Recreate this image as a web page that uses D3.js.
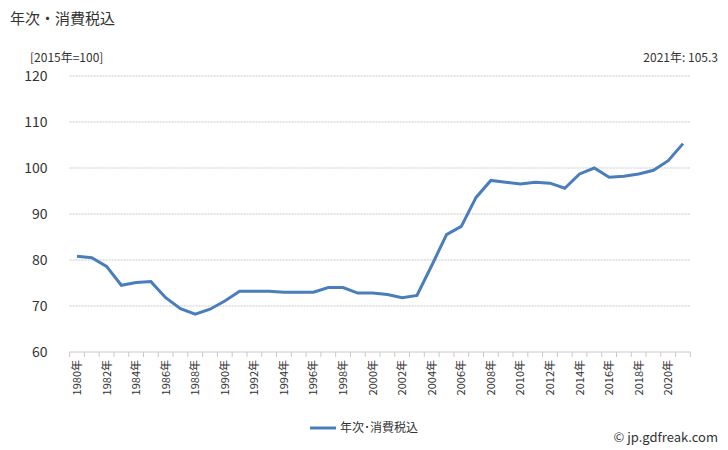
<!DOCTYPE html><html><head><meta charset="utf-8"><script src="https://cdn.jsdelivr.net/npm/d3@7"></script>
<style>body{margin:0;background:#fff}text{font-family:"Noto Sans CJK JP","Noto Sans",sans-serif}</style></head><body>
<script>
const years=d3.range(1980,2022);
const values=[80.8,80.5,78.6,74.5,75.1,75.3,71.8,69.4,68.2,69.3,71.1,73.2,73.2,73.2,73.0,73.0,73.0,74.0,74.0,72.8,72.8,72.5,71.8,72.3,78.8,85.5,87.3,93.6,97.3,96.9,96.5,96.9,96.7,95.6,98.7,100.0,98.0,98.2,98.7,99.5,101.6,105.3];
const yTicks=[60,70,80,90,100,110,120];
const W=728,H=450,L=69.6,R=690.4,T=76,B=352;
const svg=d3.select("body").append("svg").attr("width",W).attr("height",H);
const x=d3.scaleBand().domain(years).range([L,R]);
const y=d3.scaleLinear().domain([60,120]).range([B,T]);
svg.append("g").selectAll("line").data(yTicks.slice(1)).join("line")
 .attr("x1",L).attr("x2",R).attr("y1",d=>y(d)).attr("y2",d=>y(d)).attr("stroke","#c8c8c8").attr("stroke-dasharray","2,1");
svg.append("line").attr("x1",L).attr("x2",R).attr("y1",B).attr("y2",B).attr("stroke","#c8c8c8");
svg.append("g").selectAll("line").data(years.concat([2022])).join("line")
 .attr("x1",d=>d<2022?x(d):R).attr("x2",d=>d<2022?x(d):R).attr("y1",B).attr("y2",B+5).attr("stroke","#c8c8c8");
svg.append("g").selectAll("text").data(yTicks).join("text").attr("x",L-22).attr("y",d=>y(d)+5)
 .attr("text-anchor","end").attr("font-size",14).attr("fill","#333").text(d=>d);
svg.append("g").selectAll("text").data(years.filter(d=>d%2==0)).join("text")
 .attr("transform",d=>`translate(${x(d)+x.bandwidth()/2+4},${B+8}) rotate(-90)`)
 .attr("text-anchor","end").attr("font-size",11).attr("fill","#333").text(d=>d+"年");
svg.append("path").datum(values).attr("fill","none").attr("stroke","#4a7ebb").attr("stroke-width",3)
 .attr("d",d3.line().x((d,i)=>x(years[i])+x.bandwidth()/2).y(d=>y(d)));
svg.append("text").attr("x",10).attr("y",24).attr("font-size",15).attr("fill","#333").text("年次・消費税込");
svg.append("text").attr("x",30).attr("y",62).attr("font-size",12).attr("fill","#333").text("[2015年=100]");
svg.append("text").attr("x",718).attr("y",62).attr("text-anchor","end").attr("font-size",12).attr("fill","#333").text("2021年: 105.3");
svg.append("line").attr("x1",310).attr("x2",336).attr("y1",428).attr("y2",428).attr("stroke","#4a7ebb").attr("stroke-width",3);
svg.append("text").attr("x",340).attr("y",432).attr("font-size",12).attr("fill","#333").text("年次･消費税込");
svg.append("text").attr("x",718).attr("y",442).attr("text-anchor","end").attr("font-size",13).attr("fill","#333").text("© jp.gdfreak.com");
</script></body></html>
